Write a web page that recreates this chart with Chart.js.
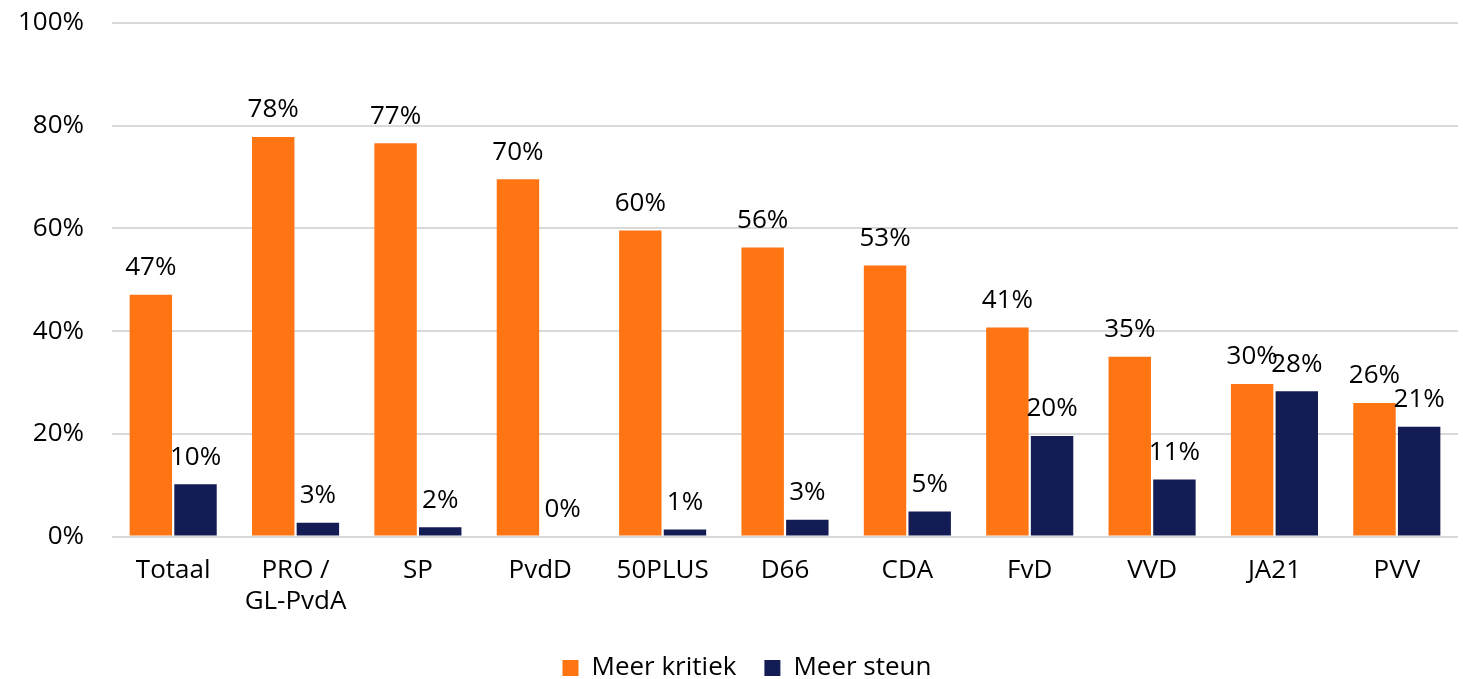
<!DOCTYPE html>
<html lang="nl">

<head>
    <meta charset="utf-8" />
    <title>Meer kritiek / Meer steun</title>
    <style>
        body {
            margin: 0;
            background: #fff;
        }

        .chart-box {
            width: 1463px;
            height: 679px;
        }
    </style>
</head>

<body>
    <div class="chart-box">
        <canvas id="mychart"></canvas>
    </div>

    <script src="https://cdn.jsdelivr.net/npm/chart.js@4.4.1/dist/chart.umd.min.js"></script>
    <script>
        // data
        const partijen = ['Totaal', ['PRO /', 'GL-PvdA'], 'SP', 'PvdD', '50PLUS', 'D66', 'CDA', 'FvD', 'VVD', 'JA21', 'PVV'];
        const meerKritiek = [47.1, 77.8, 76.6, 69.6, 59.6, 56.3, 52.8, 40.7, 35.0, 29.7, 26.0];
        const meerSteun = [10.2, 2.7, 1.8, 0, 1.4, 3.3, 4.9, 19.6, 11.1, 28.3, 21.4];
        const yTicks = [0, 20, 40, 60, 80, 100];

        const fontFam = "'Open Sans', 'Liberation Sans', sans-serif";
        const fontSize = 26;

        // labels above the bars
        const valueLabels = {
            id: 'valueLabels',
            afterDatasetsDraw(chart) {
                const ctx = chart.ctx;
                ctx.save();
                ctx.font = fontSize + 'px ' + fontFam;
                ctx.fillStyle = '#000';
                ctx.textAlign = 'center';
                ctx.textBaseline = 'bottom';
                chart.data.datasets.forEach((ds, i) => {
                    chart.getDatasetMeta(i).data.forEach((bar, j) => {
                        ctx.fillText(Math.round(ds.data[j]) + '%', bar.x, bar.y - 14);
                    });
                });
                ctx.restore();
            }
        };

        // the legend sits a bit right of the canvas centre in the original
        const legendShift = {
            id: 'legendShift',
            afterLayout(chart) {
                chart.legend.left += 18;
                chart.legend.right += 18;
            }
        };

        new Chart(document.getElementById('mychart'), {
            type: 'bar',
            data: {
                labels: partijen,
                datasets: [{
                    label: 'Meer kritiek',
                    data: meerKritiek,
                    backgroundColor: '#ff7513',
                    borderWidth: 0,
                    categoryPercentage: 0.73,
                    barPercentage: 0.95
                }, {
                    label: 'Meer steun',
                    data: meerSteun,
                    backgroundColor: '#141c55',
                    borderWidth: 0,
                    categoryPercentage: 0.73,
                    barPercentage: 0.95
                }]
            },
            options: {
                responsive: true,
                maintainAspectRatio: false,
                animation: false,
                layout: {
                    padding: { top: 23, right: 5, left: 0, bottom: -12 }
                },
                scales: {
                    x: {
                        grid: { display: false },
                        border: { display: false },
                        ticks: {
                            color: '#000',
                            font: { family: fontFam, size: fontSize },
                            padding: 10,
                            maxRotation: 0,
                            autoSkip: false
                        }
                    },
                    y: {
                        min: 0,
                        max: 100,
                        afterBuildTicks(axis) {
                            axis.ticks = yTicks.map(v => ({ value: v }));
                        },
                        afterFit(axis) {
                            axis.width = 112;
                            axis.paddingTop = 0;
                            axis.paddingBottom = 0;
                        },
                        border: { display: false },
                        grid: { color: '#d9d9d9', lineWidth: 2, drawTicks: false },
                        ticks: {
                            color: '#000',
                            font: { family: fontFam, size: fontSize },
                            padding: 28,
                            callback: v => v + '%'
                        }
                    }
                },
                plugins: {
                    legend: {
                        position: 'bottom',
                        labels: {
                            color: '#000',
                            font: { family: fontFam, size: fontSize },
                            boxWidth: 16,
                            boxHeight: 16,
                            padding: 28
                        }
                    },
                    tooltip: { enabled: false }
                }
            },
            plugins: [valueLabels, legendShift]
        });
    </script>
</body>

</html>
